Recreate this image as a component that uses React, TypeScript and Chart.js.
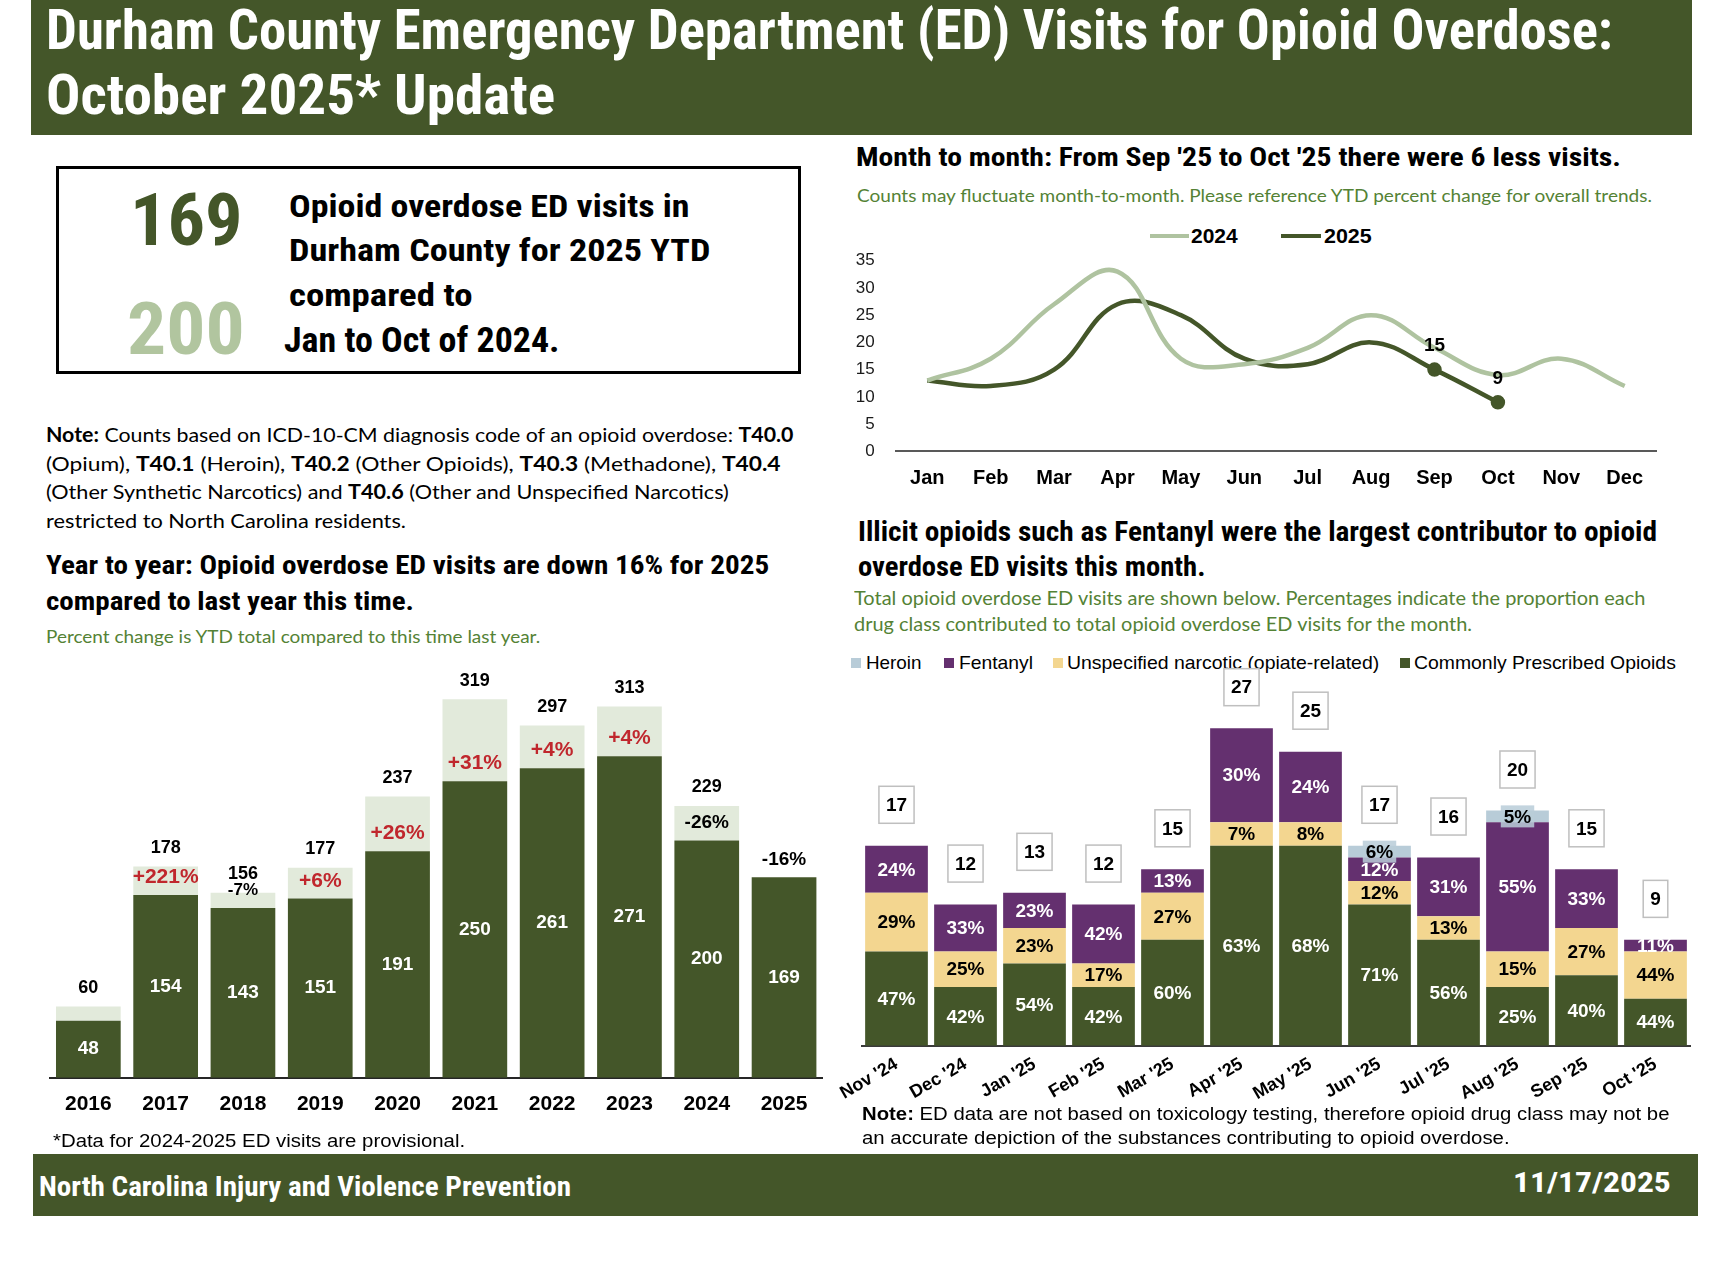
import React, { useEffect, useLayoutEffect, useRef } from "react";
import { Chart, registerables } from "chart.js";
Chart.register(...registerables);

// ---------------- data ----------------
const years = ["2016", "2017", "2018", "2019", "2020", "2021", "2022", "2023", "2024", "2025"];
const ytdVisits = [48, 154, 143, 151, 191, 250, 261, 271, 200, 169];
const fullYearVisits: (number | null)[] = [60, 178, 156, 177, 237, 319, 297, 313, 229, null];
const ytdPctChange = ["", "+221%", "-7%", "+6%", "+26%", "+31%", "+4%", "+4%", "-26%", "-16%"];

const months = ["Jan", "Feb", "Mar", "Apr", "May", "Jun", "Jul", "Aug", "Sep", "Oct", "Nov", "Dec"];
const visits2024 = [13, 17, 27, 33, 17, 16, 19, 25, 19, 14, 17, 12];
const visits2025 = [13, 12, 15, 27, 25, 17, 16, 20, 15, 9];
const labelledMonths2025 = ["Sep", "Oct"];

const stackMonths = ["Nov '24", "Dec '24", "Jan '25", "Feb '25", "Mar '25", "Apr '25", "May '25", "Jun '25", "Jul '25", "Aug '25", "Sep '25", "Oct '25"];
const heroin = [0, 0, 0, 0, 0, 0, 0, 1, 0, 1, 0, 0];
const fentanyl = [4, 4, 3, 5, 2, 8, 6, 2, 5, 11, 5, 1];
const unspecifiedNarcotic = [5, 3, 3, 2, 4, 2, 2, 2, 2, 3, 4, 4];
const commonlyPrescribed = [8, 5, 7, 5, 9, 17, 17, 12, 9, 5, 6, 4];

// ---------------- styles ----------------
const DARK = "#445629";
const LIGHT_BAR = "#E2EADB";
const LIGHT_LINE = "#AFC3A0";
const LIGHT_NUM = "#B1C59F";
const PURPLE = "#64306F";
const YELLOW = "#F3D690";
const HEROIN = "#B8CCD8";
const RED = "#C0272D";
const GREEN_TXT = "#548235";

const ARIAL = "'Liberation Sans', Arial, sans-serif";
const COND = "'Liberation Sans Narrow', 'Roboto Condensed', 'DejaVu Sans Condensed', Roboto, sans-serif";
const CAL = "Lato, 'Open Sans', sans-serif";

type TP = { x: number; y: number; w?: number; size: number; ff: string; fw?: number; color?: string; children: React.ReactNode };
function T({ x, y, w, size, ff, fw = 400, color = "#000", children }: TP) {
  const ref = useRef<HTMLDivElement>(null);
  const probe = useRef<HTMLSpanElement>(null);
  useLayoutEffect(() => {
    const fit = () => {
      const el = ref.current, p = probe.current;
      if (!el || !p) return;
      el.style.transform = "none";
      const bl = p.offsetTop + p.offsetHeight;
      const nw = el.offsetWidth;
      el.style.top = y - bl + "px";
      if (w && nw > 0) el.style.transform = `scaleX(${w / nw})`;
    };
    fit();
    const f: any = (document as any).fonts;
    if (f && f.ready) f.ready.then(fit);
  }, []);
  return (
    <div ref={ref} style={{ position: "absolute", left: x, top: y, whiteSpace: "nowrap", fontSize: size, fontFamily: ff, fontWeight: fw as any, color, lineHeight: 1.2, transformOrigin: "0 0" }}>
      {children}
      <span ref={probe} style={{ display: "inline-block", width: 0, height: 0, verticalAlign: "baseline" }} />
    </div>
  );
}

function ChartCanvas({ x, y, w, h, make }: { x: number; y: number; w: number; h: number; make: () => any }) {
  const ref = useRef<HTMLCanvasElement>(null);
  useEffect(() => {
    const c = new Chart(ref.current as HTMLCanvasElement, make());
    return () => c.destroy();
  }, []);
  return <canvas ref={ref} width={w} height={h} style={{ position: "absolute", left: x, top: y, width: w, height: h }} />;
}

// ---------------- left: yearly bars ----------------
const yearLabelsPlugin = {
  id: "yearLabels",
  afterDatasetsDraw(chart: any) {
    const { ctx } = chart;
    const ys = chart.scales.y;
    const m0 = chart.getDatasetMeta(0);
    ctx.save();
    ctx.textAlign = "center";
    ctx.textBaseline = "middle";
    ytdVisits.forEach((v, i) => {
      const x = m0.data[i].x;
      const top = ys.getPixelForValue(v);
      const base = ys.getPixelForValue(0);
      ctx.fillStyle = "#fff";
      ctx.font = `bold 19px ${ARIAL}`;
      ctx.fillText(String(v), x, (top + base) / 2);
      const full = fullYearVisits[i];
      let lightH = 99;
      if (full != null) {
        const ft = ys.getPixelForValue(full);
        lightH = top - ft;
        ctx.fillStyle = "#000";
        ctx.font = `bold 18px ${ARIAL}`;
        ctx.fillText(String(full), x, ft - 18.6);
      }
      const p = ytdPctChange[i];
      if (p) {
        const neg = p.startsWith("-");
        const size = lightH < 20 ? 17 : neg ? 19 : 21;
        ctx.font = `bold ${size}px ${ARIAL}`;
        ctx.fillStyle = neg ? "#000" : RED;
        ctx.fillText(p, x, top - 17.7);
      }
    });
    ctx.restore();
  },
};

function makeYearChart() {
  return {
    type: "bar",
    data: {
      labels: years,
      datasets: [
        { label: "YTD", data: ytdVisits, backgroundColor: DARK, categoryPercentage: 1, barPercentage: 0.837 },
        { label: "Rest of year", data: fullYearVisits.map((f, i) => (f == null ? 0 : f - ytdVisits[i])), backgroundColor: LIGHT_BAR, categoryPercentage: 1, barPercentage: 0.837 },
      ],
    },
    options: {
      responsive: false,
      animation: false,
      layout: { padding: { left: 19.7, right: 17.3, top: 22.6, bottom: 0 } },
      plugins: { legend: { display: false }, tooltip: { enabled: false } },
      scales: {
        x: {
          stacked: true,
          grid: { display: false },
          border: { display: true, color: "#262626", width: 2 },
          ticks: { font: { family: ARIAL, size: 21, weight: "bold" }, color: "#000", padding: 5.5 },
          afterFit: (s: any) => { s.height = 62.3; s.paddingLeft = 0; s.paddingRight = 0; },
        },
        y: { stacked: true, display: false, min: 0, max: 350 },
      },
    },
    plugins: [yearLabelsPlugin],
  };
}

// ---------------- right top: monthly lines ----------------
const lineLabelsPlugin = {
  id: "lineLabels",
  afterDatasetsDraw(chart: any) {
    const { ctx } = chart;
    const meta = chart.getDatasetMeta(1);
    ctx.save();
    ctx.textAlign = "center";
    ctx.textBaseline = "middle";
    ctx.font = `bold 19px ${ARIAL}`;
    ctx.fillStyle = "#000";
    labelledMonths2025.forEach((m) => {
      const i = months.indexOf(m);
      const el = meta.data[i];
      ctx.fillText(String(visits2025[i]), el.x, el.y - 24);
    });
    ctx.restore();
  },
};

function makeLineChart() {
  return {
    type: "line",
    data: {
      labels: months,
      datasets: [
        { label: "2024", data: visits2024, borderColor: LIGHT_LINE, backgroundColor: LIGHT_LINE, borderWidth: 4.5, tension: 0.4, pointRadius: 0 },
        {
          label: "2025", data: visits2025, borderColor: DARK, backgroundColor: DARK, borderWidth: 4.5, tension: 0.4,
          pointRadius: visits2025.map((_, i) => (labelledMonths2025.includes(months[i]) ? 5 : 0)),
        },
      ],
    },
    options: {
      responsive: false,
      animation: false,
      layout: { padding: { left: 0, right: 33.6, top: 40.7, bottom: 0 } },
      plugins: { legend: { display: false }, tooltip: { enabled: false } },
      scales: {
        x: {
          offset: true,
          grid: { display: false },
          border: { display: true, color: "#595959", width: 2 },
          ticks: { font: { family: ARIAL, size: 20, weight: "bold" }, color: "#000", padding: 7.5 },
          afterFit: (s: any) => { s.height = 58.7; s.paddingLeft = 0; s.paddingRight = 0; },
        },
        y: {
          min: 0, max: 35,
          grid: { display: false },
          border: { display: false },
          ticks: { stepSize: 5, font: { family: ARIAL, size: 17 }, color: "#1a1a1a", padding: 13 },
          afterFit: (s: any) => { s.width = 55.6; s.paddingTop = 0; s.paddingBottom = 0; },
        },
      },
    },
    plugins: [lineLabelsPlugin],
  };
}

// ---------------- right bottom: stacked drug classes ----------------
const stackLabelsPlugin = {
  id: "stackLabels",
  afterDatasetsDraw(chart: any) {
    const { ctx } = chart;
    const ys = chart.scales.y;
    const series = [commonlyPrescribed, unspecifiedNarcotic, fentanyl, heroin];
    const txtColors = ["#fff", "#000", "#fff", "#000"];
    ctx.save();
    ctx.textAlign = "center";
    ctx.textBaseline = "middle";
    ctx.font = `bold 19px ${ARIAL}`;
    stackMonths.forEach((_, j) => {
      const total = series.reduce((s, a) => s + a[j], 0);
      series.forEach((arr, i) => {
        const v = arr[j];
        if (!v) return;
        const el = chart.getDatasetMeta(i).data[j];
        const cy = (el.y + el.base) / 2;
        const t = Math.round((v / total) * 100) + "%";
        if (i === 3) {
          const tw = ctx.measureText(t).width;
          ctx.fillStyle = "rgba(184,204,216,0.85)";
          ctx.fillRect(el.x - tw / 2 - 3, cy - 11, tw + 6, 22);
        }
        ctx.fillStyle = txtColors[i];
        ctx.fillText(t, el.x, cy + 1);
      });
      const x = chart.getDatasetMeta(0).data[j].x;
      const ty = ys.getPixelForValue(total) - 41;
      const s = String(total);
      const tw = ctx.measureText(s).width;
      const bw = tw + 14, bh = 37;
      ctx.fillStyle = "#fff";
      ctx.fillRect(x - bw / 2, ty - bh / 2, bw, bh);
      ctx.strokeStyle = "#BFBFBF";
      ctx.lineWidth = 1.5;
      ctx.strokeRect(x - bw / 2, ty - bh / 2, bw, bh);
      ctx.fillStyle = "#000";
      ctx.fillText(s, x, ty + 1);
    });
    ctx.restore();
  },
};

function makeStackChart() {
  const ds = (label: string, data: number[], color: string) => ({ label, data, backgroundColor: color, categoryPercentage: 1, barPercentage: 0.909 });
  return {
    type: "bar",
    data: {
      labels: stackMonths,
      datasets: [
        ds("Commonly Prescribed Opioids", commonlyPrescribed, DARK),
        ds("Unspecified narcotic (opiate-related)", unspecifiedNarcotic, YELLOW),
        ds("Fentanyl", fentanyl, PURPLE),
        ds("Heroin", heroin, HEROIN),
      ],
    },
    options: {
      responsive: false,
      animation: false,
      layout: { padding: { left: 102, right: 10, top: 52.9, bottom: 0 } },
      plugins: { legend: { display: false }, tooltip: { enabled: false } },
      scales: {
        x: {
          stacked: true,
          grid: { display: false },
          border: { display: true, color: "#3a3a3a", width: 2 },
          ticks: { font: { family: ARIAL, size: 18, weight: "bold" }, color: "#000", padding: 0, minRotation: 30, maxRotation: 30, autoSkip: false },
          afterFit: (s: any) => { s.height = 74.3; s.paddingLeft = 0; s.paddingRight = 0; },
        },
        y: { stacked: true, display: false, min: 0, max: 30 },
      },
    },
    plugins: [stackLabelsPlugin],
  };
}

// ---------------- page ----------------
export default function App() {
  const sq = (x: number, c: string) => <div style={{ position: "absolute", left: x, top: 658, width: 9.5, height: 9.5, background: c }} />;
  return (
    <div style={{ position: "absolute", left: 0, top: 0, width: 1728, height: 1266, background: "#fff", overflow: "hidden" }}>
      {/* header */}
      <div style={{ position: "absolute", left: 31, top: 0, width: 1661, height: 135, background: DARK }} />
      <T x={46} y={48.5} w={1567} size={56} ff={COND} fw={700} color="#fff">Durham County Emergency Department (ED) Visits for Opioid Overdose:</T>
      <T x={46} y={113.5} w={509} size={56} ff={COND} fw={700} color="#fff">October 2025* Update</T>

      {/* KPI box */}
      <div style={{ position: "absolute", left: 56, top: 166, width: 745, height: 208, border: "3.5px solid #000", boxSizing: "border-box" }} />
      <T x={130} y={245} w={113} size={73} ff={COND} fw={700} color={DARK}>169</T>
      <T x={127} y={354} w={118} size={73} ff={COND} fw={700} color={LIGHT_NUM}>200</T>
      <T x={289} y={217.3} w={400} size={31} ff={COND} fw={700}>Opioid overdose ED visits in</T>
      <T x={289} y={261} w={421} size={31} ff={COND} fw={700}>Durham County for 2025 YTD</T>
      <T x={289} y={305.5} w={183} size={31} ff={COND} fw={700}>compared to</T>
      <T x={284} y={351.5} w={276} size={35} ff={COND} fw={700}>Jan to Oct of 2024.</T>

      {/* note */}
      <T x={46} y={441.7} w={748} size={20} ff={CAL}><b>Note:</b> Counts based on ICD-10-CM diagnosis code of an opioid overdose: <b>T40.0</b></T>
      <T x={46} y={470.5} w={735} size={20} ff={CAL}>(Opium), <b>T40.1</b> (Heroin), <b>T40.2</b> (Other Opioids), <b>T40.3</b> (Methadone), <b>T40.4</b></T>
      <T x={46} y={498.8} w={683} size={20} ff={CAL}>(Other Synthetic Narcotics) and <b>T40.6</b> (Other and Unspecified Narcotics)</T>
      <T x={46} y={527.5} w={360} size={20} ff={CAL}>restricted to North Carolina residents.</T>

      {/* left heading */}
      <T x={46} y={574} w={723} size={25} ff={COND} fw={700}>Year to year: Opioid overdose ED visits are down 16% for 2025</T>
      <T x={46} y={610} w={368} size={25} ff={COND} fw={700}>compared to last year this time.</T>
      <T x={46} y={643} w={494} size={17.5} ff={CAL} color={GREEN_TXT}>Percent change is YTD total compared to this time last year.</T>

      <ChartCanvas x={30} y={640} w={810} h={500} make={makeYearChart} />
      <T x={53} y={1146.5} w={412} size={17.5} ff={ARIAL}>*Data for 2024-2025 ED visits are provisional.</T>

      {/* right top */}
      <T x={855.5} y={166} w={765} size={25.5} ff={COND} fw={700}>Month to month: From Sep '25 to Oct '25 there were 6 less visits.</T>
      <T x={857} y={201.7} w={795} size={17} ff={CAL} color={GREEN_TXT}>Counts may fluctuate month-to-month. Please reference YTD percent change for overall trends.</T>
      <div style={{ position: "absolute", left: 1150, top: 233.7, width: 39, height: 4.5, background: LIGHT_LINE }} />
      <T x={1191} y={242.7} w={47} size={21} ff={ARIAL} fw={700}>2024</T>
      <div style={{ position: "absolute", left: 1281, top: 233.7, width: 40, height: 4.5, background: DARK }} />
      <T x={1323.7} y={242.7} w={48} size={21} ff={ARIAL} fw={700}>2025</T>
      <ChartCanvas x={840} y={220} w={850} h={290} make={makeLineChart} />

      {/* right bottom */}
      <T x={858} y={541} w={799} size={27} ff={COND} fw={700}>Illicit opioids such as Fentanyl were the largest contributor to opioid</T>
      <T x={858} y={576} w={348} size={27} ff={COND} fw={700}>overdose ED visits this month.</T>
      <T x={854} y={605} w={791} size={19} ff={CAL} color={GREEN_TXT}>Total opioid overdose ED visits are shown below. Percentages indicate the proportion each</T>
      <T x={854} y={630.5} w={618} size={19} ff={CAL} color={GREEN_TXT}>drug class contributed to total opioid overdose ED visits for the month.</T>
      {sq(851, HEROIN)}
      <T x={866} y={669} w={56} size={18.5} ff={ARIAL}>Heroin</T>
      {sq(944, PURPLE)}
      <T x={959} y={669} w={74} size={18.5} ff={ARIAL}>Fentanyl</T>
      {sq(1053, YELLOW)}
      <T x={1067} y={669} w={312} size={18.5} ff={ARIAL}>Unspecified narcotic (opiate-related)</T>
      {sq(1400, DARK)}
      <T x={1414} y={669} w={262} size={18.5} ff={ARIAL}>Commonly Prescribed Opioids</T>
      <ChartCanvas x={760} y={640} w={940} h={480} make={makeStackChart} />
      <T x={862} y={1120} w={808} size={17.5} ff={ARIAL}><b>Note:</b> ED data are not based on toxicology testing, therefore opioid drug class may not be</T>
      <T x={862} y={1143.5} w={647} size={17.5} ff={ARIAL}>an accurate depiction of the substances contributing to opioid overdose.</T>

      {/* footer */}
      <div style={{ position: "absolute", left: 33, top: 1154, width: 1665, height: 62, background: DARK }} />
      <T x={39} y={1196} w={532} size={28} ff={COND} fw={700} color="#fff">North Carolina Injury and Violence Prevention</T>
      <T x={1513} y={1191.7} w={158} size={28} ff={COND} fw={700} color="#fff">11/17/2025</T>
    </div>
  );
}
